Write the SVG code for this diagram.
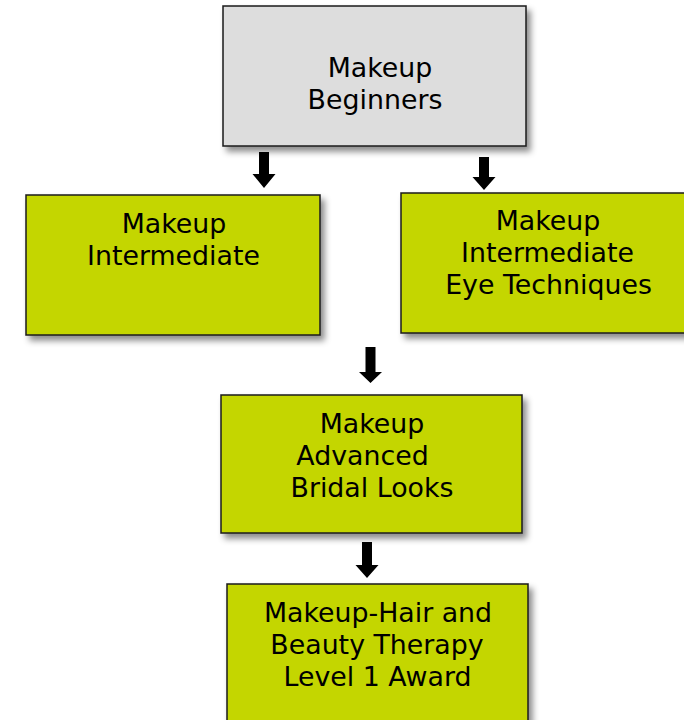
<svg xmlns="http://www.w3.org/2000/svg" width="684" height="720" viewBox="0 0 684 720">
<style>
.box{stroke:#1a1a1a;stroke-width:1.5;filter:url(#sh)}
.g{fill:#c4d600}
.gr{fill:#dddddd}
text{font-family:"DejaVu Sans",Verdana,sans-serif;font-size:26.8px;fill:#000;text-anchor:middle}
.arr{fill:#000}
</style>
<defs>
<filter id="sh" x="-10%" y="-10%" width="130%" height="130%">
<feDropShadow dx="4" dy="5" stdDeviation="3" flood-color="#000" flood-opacity="0.45"/>
</filter>
</defs>
<rect width="684" height="720" fill="#fff"/>
<g id="connectors">
<path class="arr" d="M259,152 h10 v22 h6.5 l-11.5,14 l-11.5,-14 h6.5 z"/>
<path class="arr" d="M479,157 h10 v20 h6.5 l-11.5,13 l-11.5,-13 h6.5 z"/>
<path class="arr" d="M365.5,347 h10 v25 h6.5 l-11.5,11 l-11.5,-11 h6.5 z"/>
<path class="arr" d="M362,542 h10 v23 h6.5 l-11.5,13 l-11.5,-13 h6.5 z"/>
</g>
<g id="beginners">
<rect class="box gr" x="223" y="6" width="303" height="140"/>
<text x="380" y="77">Makeup</text>
<text x="375" y="109">Beginners</text>
</g>
<g id="intermediate">
<rect class="box g" x="26" y="195" width="294" height="140"/>
<text x="174" y="233">Makeup</text>
<text x="173.5" y="265">Intermediate</text>
</g>
<g id="eye">
<rect class="box g" x="401" y="193" width="290" height="140"/>
<text x="548" y="230">Makeup</text>
<text x="547.5" y="262">Intermediate</text>
<text x="548.5" y="294">Eye Techniques</text>
</g>
<g id="advanced">
<rect class="box g" x="221" y="395" width="301" height="138"/>
<text x="372" y="433">Makeup</text>
<text x="362.5" y="465">Advanced</text>
<text x="372" y="497">Bridal Looks</text>
</g>
<g id="award">
<rect class="box g" x="227" y="584" width="301" height="146"/>
<text x="378" y="622">Makeup-Hair and</text>
<text x="377" y="654">Beauty Therapy</text>
<text x="377.5" y="686">Level 1 Award</text>
</g>
</svg>
